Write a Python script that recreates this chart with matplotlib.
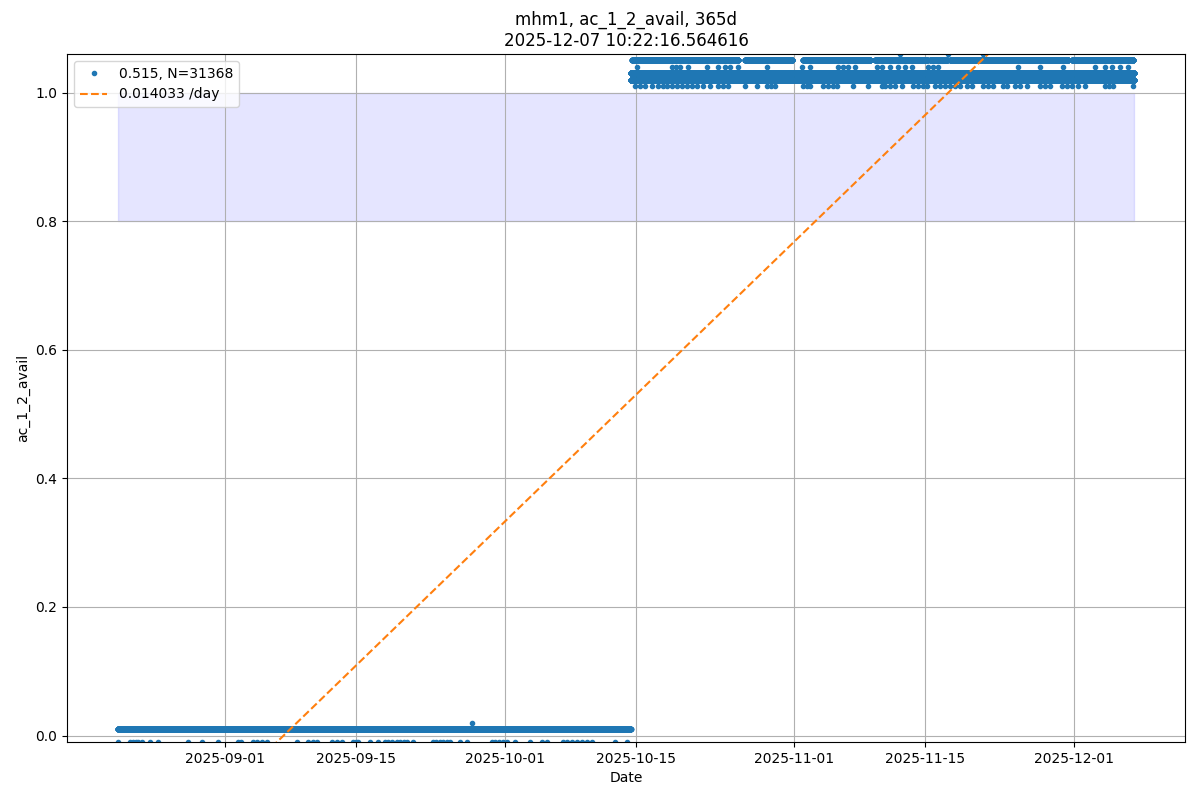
import numpy as np
import matplotlib
matplotlib.use("Agg")
import matplotlib.pyplot as plt

# data (day offsets relative to 2025-09-01)
T0 = np.datetime64("2025-09-01T00:00:00")
STEP_MIN = 5  # sampling interval of the series

data_start = -11.5
regime_change = 43.45
data_end = 97.43

low_level = 0.01
high_levels = [1.02, 1.03]

# sparse values in low regime
low_dips = [-11.47, -10.18, -9.86, -9.54, -9.32, -8.90, -8.04, -7.18, -3.97, -2.47,
            -0.75, 1.39, 1.71, 3.00, 3.43, 3.97, 4.50, 7.72, 8.90, 9.43, 9.86, 11.47,
            12.00, 12.54, 13.72, 14.04, 14.26, 15.54, 16.40, 17.15, 17.47, 17.90,
            18.44, 18.76, 19.19, 19.51, 20.15, 22.29, 22.62, 23.04, 23.37, 23.79,
            24.12, 25.19, 25.94, 28.62, 28.94, 29.37, 29.80, 30.23, 31.08, 32.69,
            33.98, 34.51, 36.23, 36.66, 37.19, 37.73, 38.26, 38.80, 39.34, 41.80, 43.09]
low_dip_level = -0.01
spike_day = [26.47]
spike_level = 0.02

# runs of 1.05 in high regime (start, end)
runs_105 = [(43.62, 46.30), (46.52, 49.30), (49.52, 50.38), (50.59, 52.73),
            (52.84, 54.98), (55.73, 58.20), (58.41, 60.77), (61.95, 66.99),
            (67.20, 69.13), (69.67, 75.24), (75.56, 77.38), (77.71, 80.60),
            (80.71, 83.39), (83.60, 90.35), (90.78, 97.32)]
days_104 = [44.16, 47.91, 48.34, 48.77, 49.62, 51.66, 52.84, 53.59, 54.13, 54.98,
            58.09, 61.84, 62.65, 65.70, 66.24, 66.77, 67.52, 69.88, 70.42, 71.28,
            72.13, 72.88, 73.63, 75.35, 75.88, 76.42, 84.99, 87.35, 89.82, 93.25,
            94.32, 95.07, 95.93, 96.78]
days_106 = [72.35, 77.49, 81.24]
days_101 = [43.94, 44.48, 45.02, 45.77, 46.41, 46.95, 47.37, 47.91, 48.45, 48.98,
            49.52, 50.05, 50.59, 51.23, 51.98, 52.84, 53.38, 53.91, 55.73, 57.02,
            58.09, 58.52, 58.95, 61.95, 62.38, 62.70, 64.09, 64.63, 65.17, 65.59,
            67.31, 68.92, 70.42, 70.74, 71.28, 71.81, 72.56, 73.74, 74.28, 74.81,
            75.24, 76.10, 76.63, 77.17, 77.71, 78.24, 78.78, 79.53, 80.06, 81.24,
            81.78, 82.32, 83.39, 83.82, 84.67, 85.21, 85.96, 87.35, 87.89, 88.42,
            89.71, 90.25, 90.78, 91.43, 92.18, 94.32, 94.75, 95.18, 97.32]

mean_val = 0.515
n_val = 31368
slope = 0.014033   # per day
zero_day = 6.25    # trend crosses 0

band_lo, band_hi = 0.8, 1.0


def to_dt(days):
    return T0 + (np.asarray(days) * 86400).astype("timedelta64[s]")


def grid(a, b):
    return np.arange(a, b, STEP_MIN / 1440.0)


xs, ys = [], []
g = grid(data_start, regime_change)
xs.append(g); ys.append(np.full(len(g), low_level))
g = grid(regime_change, data_end)
for lv in high_levels:
    xs.append(g); ys.append(np.full(len(g), lv))
for a, b in runs_105:
    g = grid(a, b)
    xs.append(g); ys.append(np.full(len(g), 1.05))
for d, lv in [(low_dips, low_dip_level), (spike_day, spike_level),
              (days_104, 1.04), (days_106, 1.06), (days_101, 1.01)]:
    xs.append(np.array(d)); ys.append(np.full(len(d), lv))

x = np.concatenate(xs)
y = np.concatenate(ys)

fig, ax = plt.subplots(figsize=(12, 8), dpi=100)
ax.plot(to_dt(x), y, ".", label="%.3f, N=%d" % (mean_val, n_val))
tl = np.array([data_start, data_end])
ax.plot(to_dt(tl), slope * (tl - zero_day), "--", label="%.6f /day" % slope)
ax.fill_between(to_dt(tl), band_lo, band_hi, color="blue", alpha=0.1)
ax.set_ylim(min(low_dip_level, y.min()), y.max())
ax.grid(True)
ax.legend(loc="upper left")
ax.set_xlabel("Date")
ax.set_ylabel("ac_1_2_avail")
ax.set_title("mhm1, ac_1_2_avail, 365d\n2025-12-07 10:22:16.564616")
fig.subplots_adjust(left=0.056, right=0.9875, top=0.9325, bottom=0.0725)
fig.savefig("out.png")
